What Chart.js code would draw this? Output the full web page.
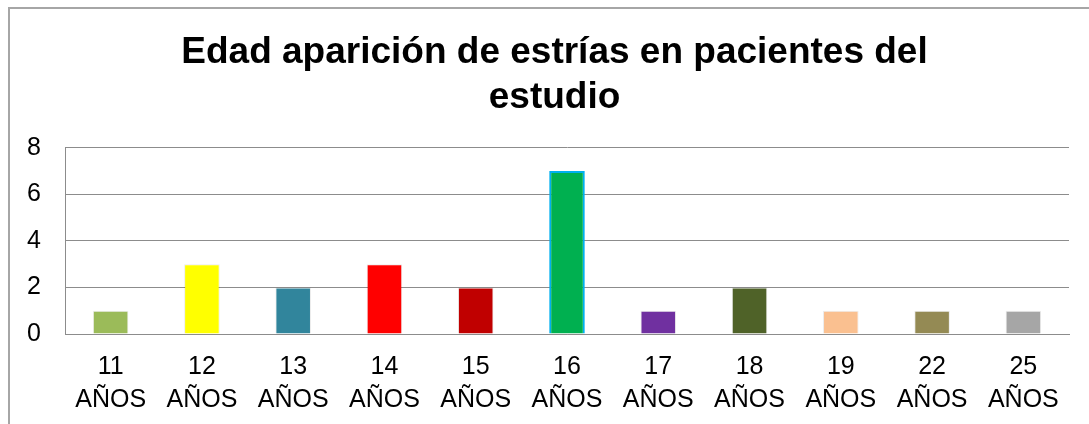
<!DOCTYPE html>
<html>
<head>
<meta charset="utf-8">
<script src="https://cdn.jsdelivr.net/npm/chart.js@4/dist/chart.umd.min.js"></script>
<style>
  body { margin: 0; background: #fff; }
  #marco { position: absolute; left: 8px; top: 7px; width: 1100px; height: 440px; border: 2px solid #a6a6a6; }
  #cont { position: absolute; left: 0; top: 0; width: 1089px; height: 424px; }
</style>
</head>
<body>
<div id="marco"></div>
<div id="cont"><canvas id="grafico"></canvas></div>
<script>
const edades = ["11", "12", "13", "14", "15", "16", "17", "18", "19", "22", "25"]
const pacientes = [1, 3, 2, 3, 2, 7, 1, 2, 1, 1, 1]
const colores = ['#9BBB59', '#FFFF00', '#31859C', '#FF0000', '#C00000', '#00B050',
  '#7030A0', '#4F6228', '#FAC090', '#948A54', '#A6A6A6']
const bordes = ['rgba(0,0,0,0.08)', 'rgba(0,0,0,0.08)', 'rgba(0,0,0,0.08)', 'rgba(0,0,0,0.08)',
  'rgba(0,0,0,0.08)', '#00B0F0', 'rgba(0,0,0,0.08)', 'rgba(0,0,0,0.08)', 'rgba(0,0,0,0.08)',
  'rgba(0,0,0,0.08)', 'rgba(0,0,0,0.08)']
const titulo = ["Edad aparición de estrías en pacientes del", "estudio"]

const fuente = "'Liberation Sans', Arial, sans-serif"

// el titulo va centrado un poco a la derecha del lienzo
const moverTitulo = {
  id: 'moverTitulo',
  afterLayout: (chart) => {
    if (chart.titleBlock) chart.titleBlock.left = 40
  }
}

const data = {
  labels: edades.map(e => [e, "AÑOS"]),
  datasets: [
    {
      label: "Pacientes",
      data: pacientes,
      backgroundColor: colores,
      borderColor: bordes,
      borderWidth: pacientes.map((v, i) => i === 5 ? 2 : 1),
      barPercentage: 0.39,
      categoryPercentage: 1,
    },
  ],
}

const config = {
  type: 'bar',
  data: data,
  plugins: [moverTitulo],
  options: {
    responsive: false,
    animation: false,
    layout: { padding: { left: 27, right: 20, top: 0, bottom: -9 } },
    plugins: {
      legend: { display: false },
      tooltip: { enabled: false },
      title: {
        display: true,
        text: titulo,
        color: '#000',
        font: { family: fuente, size: 37, weight: 'bold', lineHeight: 1.2 },
        padding: { top: 31, bottom: 28 },
      },
    },
    scales: {
      x: {
        afterFit: (s) => { s.paddingLeft = 0; s.paddingRight = 0 },
        grid: { display: false, drawTicks: false },
        border: { display: true, color: '#8c8c8c', width: 1 },
        ticks: { color: '#000', padding: 17, maxRotation: 0, autoSkip: false,
          font: { family: fuente, size: 25, lineHeight: 1.3 } },
      },
      y: {
        min: 0,
        max: 8,
        afterFit: (s) => { s.width = 38 },
        grid: { color: '#8c8c8c', lineWidth: 1, drawTicks: false },
        border: { display: true, color: '#8c8c8c', width: 1 },
        ticks: { stepSize: 2, color: '#000', padding: 24,
          font: { family: fuente, size: 25 } },
      },
    },
  },
}

const canvas = document.querySelector("#grafico")
canvas.width = 1089
canvas.height = 424
const miGrafico = new Chart(canvas, config)
</script>
</body>
</html>
